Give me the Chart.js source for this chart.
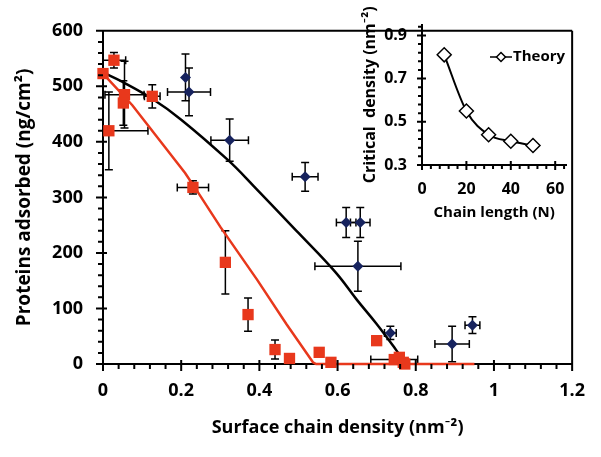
<!DOCTYPE html>
<html>
<head>
<meta charset="utf-8">
<script src="https://cdn.jsdelivr.net/npm/chart.js@4.4.0/dist/chart.umd.min.js"></script>
<style>
  html, body { margin: 0; padding: 0; background: #fff; }
  #wrap { position: relative; width: 601px; height: 457px; }
  #mainChart { position: absolute; left: 0; top: 0; }
  #insetChart { position: absolute; left: 340px; top: 0; }
</style>
</head>
<body>
<div id="wrap">
  <canvas id="mainChart" width="601" height="457"></canvas>
  <canvas id="insetChart" width="240" height="230"></canvas>
</div>
<script>
// Dados (quadrados vermelhos)
const redX    = [0.000, 0.015, 0.028, 0.055, 0.052, 0.126, 0.230, 0.313, 0.371, 0.440, 0.477, 0.553, 0.583, 0.700, 0.745, 0.758, 0.768, 0.772];
const redY    = [523,   420,   547,   485,   470,   482,   318,   183,   89,    26,    10,    21,    3,     42,    8,     12,    3,     0];
const redXErr = [0,     0.10,  0.03,  0.05,  0,     0.02,  0.04,  0.01,  0.01,  0.005, 0,     0,     0,     0,     0.06,  0,     0,     0.01];
const redYErr = [0,     70,    14,    60,    40,    21,    12,    57,    30,    17,    0,     0,     0,     8,     0,     0,     0,     0];

// Losangos azuis
const blueX    = [0.211, 0.220, 0.324, 0.517, 0.622, 0.658, 0.652, 0.735, 0.893, 0.945];
const blueY    = [516,   490,   403,   337,   255,   255,   176,   56,    36,    70];
const blueXErr = [0,     0.055, 0.048, 0.033, 0.025, 0.025, 0.11,  0.015, 0.044, 0.019];
const blueYErr = [42,    43,    38,    26,    27,    27,    45,    12,    32,    15];

// Curvas ajustadas
const blackFitX = [0, 0.05, 0.125, 0.2, 0.32, 0.386, 0.5, 0.595, 0.65, 0.7, 0.75, 0.775];
const blackFitY = [525, 508, 478, 440, 367, 320, 236, 165, 115, 72, 25, 0];
const redFitX = [0, 0.075, 0.21, 0.243, 0.301, 0.394, 0.469, 0.537, 0.545, 0.95];
const redFitY = [523, 466, 344, 309, 246, 152, 72, 3, 0, 0];

// Eixos
const xTicks = [0, 0.2, 0.4, 0.6, 0.8, 1, 1.2];
const xTickLabels = ["0", "0.2", "0.4", "0.6", "0.8", "1", "1.2"];
const yTicks = [0, 100, 200, 300, 400, 500, 600];
const yTickLabels = ["0", "100", "200", "300", "400", "500", "600"];

// Gráfico menor (teoria)
const chainLength = [10, 20, 30, 40, 50];
const criticalDensity = [0.81, 0.55, 0.44, 0.41, 0.39];
const insetXTicks = [0, 20, 40, 60];
const insetXTickLabels = ["0", "20", "40", "60"];
const insetYTicks = [0.3, 0.5, 0.7, 0.9];
const insetYTickLabels = ["0.3", "0.5", "0.7", "0.9"];

const RED = "#e8381c";
const BLUE = "#17235e";
const FONT = "'Open Sans', Lato, sans-serif";

Chart.defaults.font.family = FONT;
Chart.defaults.font.weight = "bold";
Chart.defaults.color = "#000";

function toPoints(xs, ys) {
  return xs.map((x, i) => ({ x: x, y: ys[i] }));
}

// Barras de erro desenhadas antes dos marcadores
const errorBars = {
  id: "errorBars",
  beforeDatasetsDraw(chart) {
    const ctx = chart.ctx;
    const sx = chart.scales.x, sy = chart.scales.y;
    const cap = 4;
    ctx.save();
    ctx.strokeStyle = "#000";
    ctx.lineWidth = 1.5;
    chart.data.datasets.forEach((ds) => {
      if (!ds.errX) return;
      ds.data.forEach((p, i) => {
        const px = sx.getPixelForValue(p.x);
        const py = sy.getPixelForValue(p.y);
        const ex = ds.errX[i], ey = ds.errY[i];
        ctx.beginPath();
        if (ey > 0) {
          const top = sy.getPixelForValue(p.y + ey);
          const lowV = p.y - ey;
          const bot = sy.getPixelForValue(Math.max(sy.min, lowV));
          ctx.moveTo(px, top); ctx.lineTo(px, bot);
          ctx.moveTo(px - cap, top); ctx.lineTo(px + cap, top);
          if (lowV >= sy.min) { ctx.moveTo(px - cap, bot); ctx.lineTo(px + cap, bot); }
        }
        if (ex > 0) {
          const leftV = p.x - ex;
          const left = sx.getPixelForValue(Math.max(sx.min, leftV));
          const right = sx.getPixelForValue(p.x + ex);
          ctx.moveTo(left, py); ctx.lineTo(right, py);
          ctx.moveTo(right, py - cap); ctx.lineTo(right, py + cap);
          if (leftV >= sx.min) { ctx.moveTo(left, py - cap); ctx.lineTo(left, py + cap); }
        }
        ctx.stroke();
      });
    });
    ctx.restore();
  }
};

// Marcas maiores/menores nos eixos e moldura
const tickMarks = {
  id: "tickMarks",
  afterDraw(chart, args, opts) {
    const ctx = chart.ctx;
    const sx = chart.scales.x, sy = chart.scales.y;
    const a = chart.chartArea;
    ctx.save();
    ctx.strokeStyle = "#000";
    ctx.lineWidth = 2;
    ctx.beginPath();
    const nx = Math.round((sx.max - sx.min) / opts.xMinor);
    for (let i = 0; i <= nx; i++) {
      const px = sx.getPixelForValue(sx.min + i * opts.xMinor);
      ctx.moveTo(px, a.bottom); ctx.lineTo(px, a.bottom + opts.minorLen);
    }
    const ny = Math.round((sy.max - sy.min) / opts.yMinor);
    for (let i = 0; i <= ny; i++) {
      const py = sy.getPixelForValue(sy.min + i * opts.yMinor);
      ctx.moveTo(a.left, py); ctx.lineTo(a.left - opts.minorLen, py);
    }
    sx.ticks.forEach((t) => {
      const px = sx.getPixelForValue(t.value);
      ctx.moveTo(px, a.bottom - opts.majorIn); ctx.lineTo(px, a.bottom + opts.majorOut);
    });
    sy.ticks.forEach((t) => {
      const py = sy.getPixelForValue(t.value);
      ctx.moveTo(a.left + opts.majorIn, py); ctx.lineTo(a.left - opts.majorOut, py);
    });
    if (opts.frame) {
      ctx.moveTo(a.left, a.top); ctx.lineTo(a.right, a.top);
      ctx.moveTo(a.right, a.top); ctx.lineTo(a.right, a.bottom);
    }
    ctx.stroke();
    ctx.restore();
  }
};

// Legenda do gráfico menor
const insetLegend = {
  id: "insetLegend",
  afterDraw(chart, args, opts) {
    const ctx = chart.ctx;
    const ds = chart.data.datasets[0];
    ctx.save();
    ctx.strokeStyle = "#000";
    ctx.lineWidth = 1.5;
    ctx.beginPath();
    ctx.moveTo(opts.x, opts.y); ctx.lineTo(opts.x + 22, opts.y);
    ctx.stroke();
    ctx.fillStyle = "#fff";
    Chart.helpers.drawPoint(ctx, { pointStyle: "rectRot", radius: 4.5, borderWidth: 1.5, rotation: 0 }, opts.x + 11, opts.y);
    ctx.fillStyle = "#000";
    ctx.font = "bold 15px " + FONT;
    ctx.textBaseline = "middle";
    ctx.fillText(ds.label, opts.x + 23, opts.y);
    ctx.restore();
  }
};

function createMainChart() {
  const ctx = document.getElementById("mainChart").getContext("2d");
  new Chart(ctx, {
    type: "scatter",
    data: {
      datasets: [
        {
          label: "Red",
          data: toPoints(redX, redY),
          errX: redXErr,
          errY: redYErr,
          pointStyle: "rect",
          pointRadius: 8,
          backgroundColor: RED,
          borderColor: RED,
          borderWidth: 0,
          clip: false,
        },
        {
          label: "Blue",
          data: toPoints(blueX, blueY),
          errX: blueXErr,
          errY: blueYErr,
          pointStyle: "rectRot",
          pointRadius: 5.5,
          backgroundColor: BLUE,
          borderColor: BLUE,
          borderWidth: 0,
          clip: false,
        },
        {
          label: "Red fit",
          type: "line",
          data: toPoints(redFitX, redFitY),
          borderColor: RED,
          borderWidth: 2.5,
          pointRadius: 0,
          tension: 0,
          fill: false,
          clip: false,
        },
        {
          label: "Black fit",
          type: "line",
          data: toPoints(blackFitX, blackFitY),
          borderColor: "#000",
          borderWidth: 2.5,
          pointRadius: 0,
          tension: 0.4,
          fill: false,
          clip: false,
        },
      ],
    },
    options: {
      responsive: false,
      animation: false,
      layout: { padding: { top: 20, right: 22, left: 0, bottom: 0 } },
      plugins: {
        legend: { display: false },
        tooltip: { enabled: false },
        tickMarks: { xMinor: 0.04, yMinor: 20, minorLen: 5, majorIn: 4, majorOut: 7, frame: true },
      },
      scales: {
        x: {
          type: "linear",
          min: 0,
          max: 1.2,
          grid: { display: false, drawTicks: false },
          border: { color: "#000", width: 2 },
          afterBuildTicks: (s) => { s.ticks = xTicks.map((v) => ({ value: v })); },
          afterFit: (s) => { s.height = 93; },
          ticks: {
            padding: 16,
            font: { size: 18, weight: "bold" },
            callback: (v, i) => xTickLabels[i],
          },
          title: {
            display: true,
            text: "Surface chain density (nm⁻²)",
            font: { size: 18, weight: "bold" },
            padding: { top: 0, bottom: 18 },
          },
        },
        y: {
          type: "linear",
          min: 0,
          max: 600,
          grid: { display: false, drawTicks: false },
          border: { color: "#000", width: 2 },
          afterBuildTicks: (s) => { s.ticks = yTicks.map((v) => ({ value: v })); },
          afterFit: (s) => { s.width = 103; },
          ticks: {
            padding: 20,
            font: { size: 18, weight: "bold" },
            callback: (v, i) => yTickLabels[i],
          },
          title: {
            display: true,
            text: "Proteins adsorbed (ng/cm²)",
            font: { size: 19, weight: "bold" },
            padding: { top: 13, bottom: 0 },
          },
        },
      },
    },
    plugins: [errorBars, tickMarks],
  });
}

function createInsetChart() {
  const ctx = document.getElementById("insetChart").getContext("2d");
  new Chart(ctx, {
    type: "line",
    data: {
      datasets: [
        {
          label: "Theory",
          data: toPoints(chainLength, criticalDensity),
          borderColor: "#000",
          borderWidth: 2,
          pointStyle: "rectRot",
          pointRadius: 7,
          pointBackgroundColor: "#fff",
          pointBorderColor: "#000",
          pointBorderWidth: 1.5,
          cubicInterpolationMode: "monotone",
          fill: false,
          clip: false,
        },
      ],
    },
    options: {
      responsive: false,
      animation: false,
      layout: { padding: { top: 21, right: 0, left: 0, bottom: 0 } },
      plugins: {
        legend: { display: false },
        tooltip: { enabled: false },
        tickMarks: { xMinor: 4, yMinor: 0.04, minorLen: 4, majorIn: 4, majorOut: 5, frame: false },
        insetLegend: { x: 150, y: 57 },
      },
      scales: {
        x: {
          type: "linear",
          min: 0,
          max: 65,
          grid: { display: false, drawTicks: false },
          border: { color: "#000", width: 2 },
          afterBuildTicks: (s) => { s.ticks = insetXTicks.map((v) => ({ value: v })); },
          afterFit: (s) => { s.height = 65; },
          ticks: {
            padding: 15,
            font: { size: 16, weight: "bold" },
            callback: (v, i) => insetXTickLabels[i],
          },
          title: {
            display: true,
            text: "Chain length (N)",
            font: { size: 15, weight: "bold" },
            padding: { top: 0, bottom: 8 },
          },
        },
        y: {
          type: "linear",
          min: 0.3,
          max: 0.95,
          grid: { display: false, drawTicks: false },
          border: { color: "#000", width: 2 },
          afterBuildTicks: (s) => { s.ticks = insetYTicks.map((v) => ({ value: v })); },
          afterFit: (s) => { s.width = 82; },
          ticks: {
            padding: 15,
            font: { size: 16, weight: "bold" },
            callback: (v, i) => insetYTickLabels[i],
          },
          title: {
            display: true,
            text: "Critical  density (nm⁻²)",
            font: { size: 16, weight: "bold" },
            padding: { top: 21, bottom: 0 },
          },
        },
      },
    },
    plugins: [tickMarks, insetLegend],
  });
}

document.addEventListener("DOMContentLoaded", function () {
  createMainChart();
  createInsetChart();
});
</script>
</body>
</html>
